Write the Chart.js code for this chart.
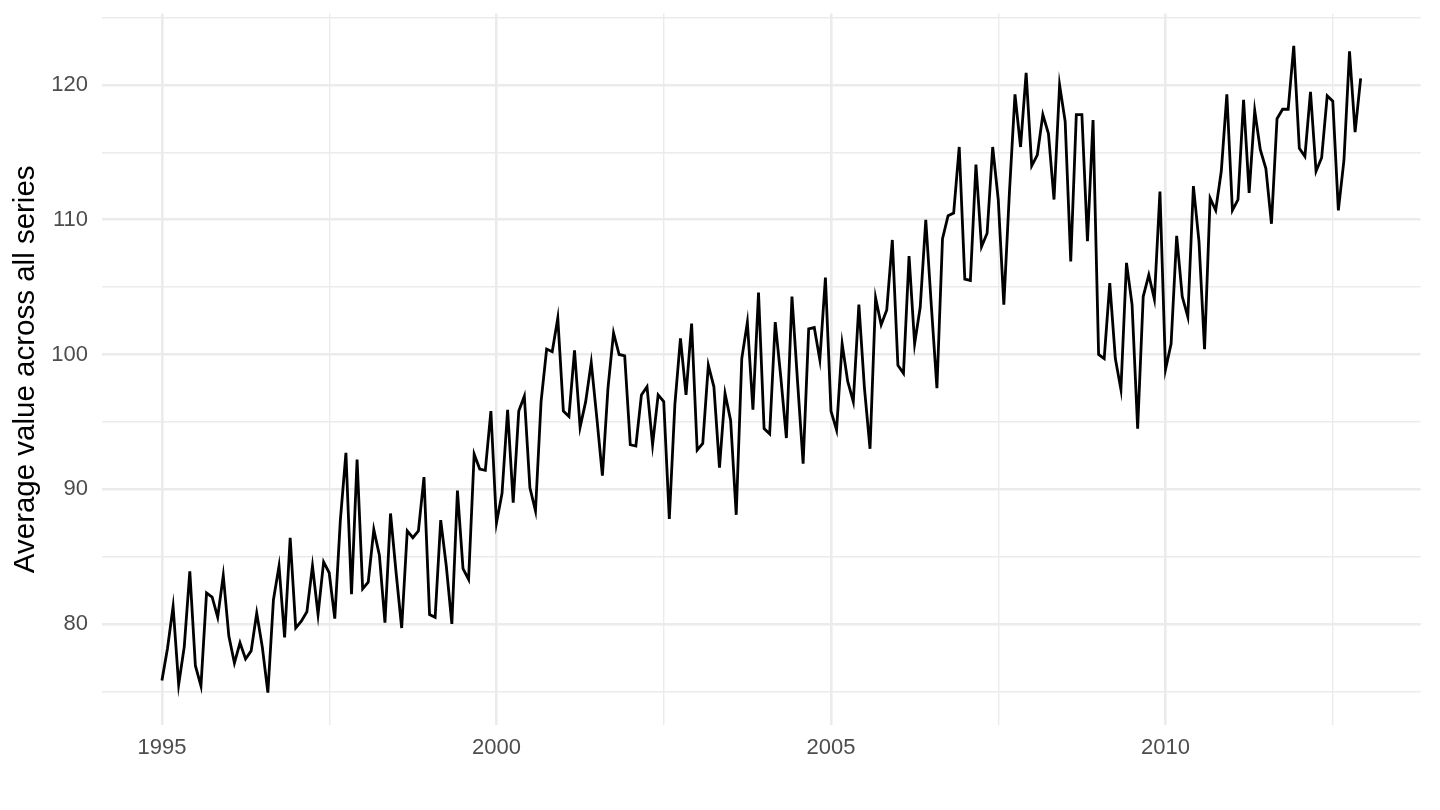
<!DOCTYPE html>
<html>
<head>
<meta charset="utf-8">
<script src="https://cdn.jsdelivr.net/npm/chart.js@4.4.1/dist/chart.umd.min.js"></script>
<style>
  html, body { margin: 0; padding: 0; background: #fff; }
</style>
</head>
<body>
<canvas id="myChart" width="1440" height="810"></canvas>
<script>
// monthly averages, Jan..Dec of each year
const startYear = 1995;
const v1995 = [75.8, 78.2, 81.3, 75.5, 78.3, 83.9, 76.9, 75.4, 82.3, 82.0, 80.5, 83.6];
const v1996 = [79.1, 77.1, 78.6, 77.4, 78.0, 80.8, 78.3, 74.9, 81.8, 84.3, 79.0, 86.4];
const v1997 = [79.7, 80.2, 80.9, 84.3, 80.7, 84.6, 83.8, 80.4, 87.7, 92.7, 82.2, 92.2];
const v1998 = [82.6, 83.1, 87.0, 85.1, 80.1, 88.2, 83.8, 79.7, 86.9, 86.4, 86.9, 90.9];
const v1999 = [80.7, 80.5, 87.7, 84.3, 80.0, 89.9, 84.1, 83.3, 92.6, 91.5, 91.4, 95.8];
const v2000 = [87.5, 89.7, 95.9, 89.0, 95.8, 96.9, 90.1, 88.4, 96.5, 100.4, 100.2, 102.7];
const v2001 = [95.8, 95.4, 100.3, 94.6, 96.5, 99.4, 95.3, 91.0, 97.5, 101.6, 100.0, 99.9];
const v2002 = [93.3, 93.2, 97.0, 97.6, 93.3, 97.0, 96.5, 87.8, 96.3, 101.2, 97.0, 102.3];
const v2003 = [92.9, 93.4, 99.2, 97.6, 91.6, 97.1, 95.1, 88.1, 99.7, 102.4, 95.9, 104.6];
const v2004 = [94.5, 94.1, 102.4, 98.3, 93.8, 104.3, 98.0, 91.9, 101.9, 102.0, 99.6, 105.7];
const v2005 = [95.8, 94.4, 100.8, 98.0, 96.5, 103.7, 97.5, 93.0, 104.2, 102.2, 103.3, 108.5];
const v2006 = [99.2, 98.6, 107.3, 100.8, 103.5, 110.0, 103.6, 97.5, 108.6, 110.3, 110.5, 115.4];
const v2007 = [105.6, 105.5, 114.1, 108.0, 109.0, 115.4, 111.5, 103.7, 112.0, 119.3, 115.4, 120.9];
const v2008 = [114.0, 114.8, 117.8, 116.4, 111.5, 120.0, 117.3, 106.9, 117.8, 117.8, 108.4, 117.4];
const v2009 = [100.0, 99.7, 105.3, 99.7, 97.4, 106.8, 103.7, 94.5, 104.3, 105.9, 104.1, 112.1];
const v2010 = [98.9, 100.8, 108.8, 104.3, 102.8, 112.5, 108.4, 100.4, 111.6, 110.7, 113.6, 119.3];
const v2011 = [110.7, 111.5, 118.9, 112.0, 118.1, 115.2, 113.8, 109.7, 117.5, 118.2, 118.2, 122.9];
const v2012 = [115.3, 114.7, 119.5, 113.6, 114.6, 119.2, 118.8, 110.7, 114.4, 122.5, 116.5, 120.5];

const xMajor = [1995, 2000, 2005, 2010];
const xMinor = [1997.5, 2002.5, 2007.5, 2012.5];
const yMajor = [80, 90, 100, 110, 120];
const yMinor = [75, 85, 95, 105, 115, 125];

const allValues = [].concat(v1995, v1996, v1997, v1998, v1999, v2000, v2001, v2002, v2003,
    v2004, v2005, v2006, v2007, v2008, v2009, v2010, v2011, v2012);
const points = allValues.map((v, i) => ({x: startYear + i / 12, y: v}));

// ggplot-like 5% expansion of the ranges
const xLo = points[0].x, xHi = points[points.length - 1].x;
const yLo = Math.min(...allValues), yHi = Math.max(...allValues);
const xPad = (xHi - xLo) * 0.05, yPad = (yHi - yLo) * 0.05;

const FONT = '"Liberation Sans", Arial, Helvetica, sans-serif';
const GRID = '#EBEBEB';

const ctx = document.getElementById('myChart');

new Chart(ctx, {
    type: 'line',
    data: {
        datasets: [{
            data: points,
            borderColor: '#000000',
            borderWidth: 2.8,
            pointRadius: 0,
            fill: false,
            tension: 0
        }]
    },
    options: {
        responsive: false,
        animation: false,
        devicePixelRatio: 1,
        layout: {padding: {top: 13.6, right: 19.4, left: 0, bottom: 0}},
        plugins: {
            legend: {display: false},
            tooltip: {enabled: false}
        },
        scales: {
            x: {
                type: 'linear',
                min: xLo - xPad,
                max: xHi + xPad,
                afterBuildTicks: scale => {
                    scale.ticks = [...xMajor, ...xMinor].sort((a, b) => a - b).map(v => ({value: v}));
                },
                afterFit: scale => { scale.height = 85; },
                border: {display: false},
                grid: {
                    color: GRID,
                    drawTicks: false,
                    lineWidth: c => xMajor.includes(c.tick.value) ? 2.6 : 1.4
                },
                ticks: {
                    autoSkip: false,
                    maxRotation: 0,
                    padding: 10,
                    color: '#4D4D4D',
                    font: {family: FONT, size: 22},
                    callback: v => xMajor.includes(v) ? String(v) : ''
                }
            },
            y: {
                min: yLo - yPad,
                max: yHi + yPad,
                afterBuildTicks: scale => {
                    scale.ticks = [...yMajor, ...yMinor].sort((a, b) => a - b).map(v => ({value: v}));
                },
                afterFit: scale => {
                    scale.width = 102;
                    // labels are allowed to overhang, like in the original
                    scale.paddingTop = 0;
                    scale.paddingBottom = 0;
                },
                border: {display: false},
                grid: {
                    color: GRID,
                    drawTicks: false,
                    lineWidth: c => yMajor.includes(c.tick.value) ? 2.6 : 1.4
                },
                ticks: {
                    autoSkip: false,
                    padding: 14,
                    color: '#4D4D4D',
                    font: {family: FONT, size: 22},
                    callback: v => yMajor.includes(v) ? String(v) : ''
                },
                title: {
                    display: true,
                    text: 'Average value across all series',
                    color: '#000000',
                    font: {family: FONT, size: 29.5},
                    padding: {top: 8, bottom: 0}
                }
            }
        }
    }
});
</script>
</body>
</html>
